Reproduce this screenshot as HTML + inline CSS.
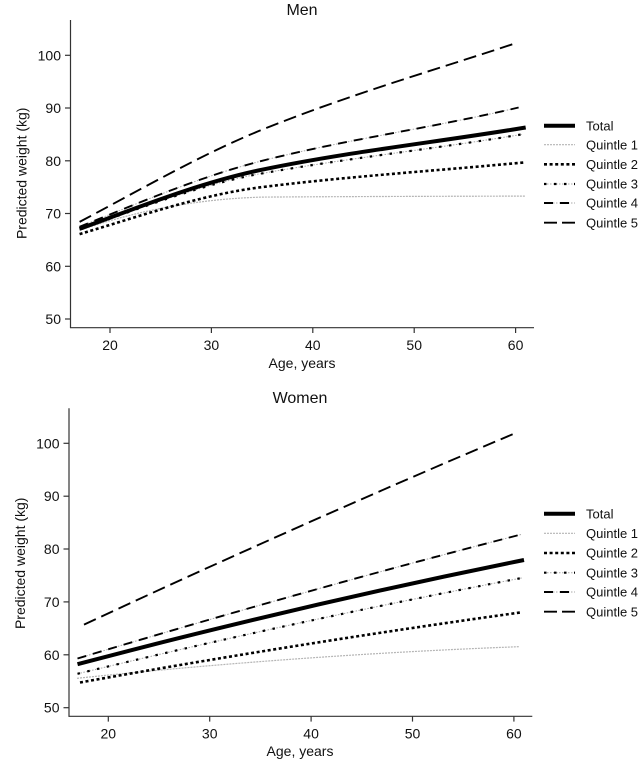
<!DOCTYPE html>
<html><head><meta charset="utf-8">
<style>
html,body{margin:0;padding:0;background:#fff;}
svg{display:block;}
text{font-family:"Liberation Sans",Arial,sans-serif;fill:#111;}
</style></head>
<body>
<svg width="642" height="761" viewBox="0 0 642 761" xmlns="http://www.w3.org/2000/svg">
<rect width="642" height="761" fill="#fff"/>

<!-- ===== MEN ===== -->
<text x="302" y="15" font-size="16" text-anchor="middle">Men</text>
<g stroke="#333" stroke-width="1.2" fill="none">
  <line x1="70.5" y1="20" x2="70.5" y2="328"/>
  <line x1="70" y1="327.7" x2="534" y2="327.7"/>
  <line x1="65" y1="55.3" x2="70.5" y2="55.3"/>
  <line x1="65" y1="108" x2="70.5" y2="108"/>
  <line x1="65" y1="160.8" x2="70.5" y2="160.8"/>
  <line x1="65" y1="213.5" x2="70.5" y2="213.5"/>
  <line x1="65" y1="266.3" x2="70.5" y2="266.3"/>
  <line x1="65" y1="319" x2="70.5" y2="319"/>
  <line x1="110" y1="327.7" x2="110" y2="333"/>
  <line x1="211.4" y1="327.7" x2="211.4" y2="333"/>
  <line x1="312.8" y1="327.7" x2="312.8" y2="333"/>
  <line x1="414.2" y1="327.7" x2="414.2" y2="333"/>
  <line x1="515.6" y1="327.7" x2="515.6" y2="333"/>
</g>
<g font-size="14" text-anchor="end">
  <text x="61" y="60.3">100</text>
  <text x="61" y="113">90</text>
  <text x="61" y="165.8">80</text>
  <text x="61" y="218.5">70</text>
  <text x="61" y="271.3">60</text>
  <text x="61" y="324">50</text>
</g>
<g font-size="14" text-anchor="middle">
  <text x="110" y="350">20</text>
  <text x="211.4" y="350">30</text>
  <text x="312.8" y="350">40</text>
  <text x="414.2" y="350">50</text>
  <text x="515.6" y="350">60</text>
  <text x="302" y="368">Age, years</text>
</g>
<text font-size="14" text-anchor="middle" transform="translate(26.5,173.3) rotate(-90)">Predicted weight (kg)</text>

<g fill="none" stroke-linejoin="round">
  <!-- Q1 -->
  <path d="M79.6,230.4 C140.4,209.2 201.3,198.9 262.1,197.1 C350,196.5 437.8,196.3 525.7,196.1"
    stroke="#b5b5b5" stroke-width="1.2" stroke-dasharray="2 1"/>
  <!-- Q2 -->
  <path d="M79.6,234.1 C140.4,216.1 201.3,194.6 262.1,187.1 C350,176.2 437.8,170.65 525.7,162.3"
    stroke="#000" stroke-width="2.6" stroke-dasharray="3 2.6"/>
  <!-- Q3 -->
  <path d="M79.6,229.3 C140.4,208.3 201.3,184.2 262.1,173.4 C348.6,158 435.2,148.8 521.7,134.4"
    stroke="#aaa" stroke-width="1" stroke-dasharray="1.5 1.5"/>
  <path d="M79.6,229.3 C140.4,208.3 201.3,184.2 262.1,173.4 C348.6,158 435.2,148.8 521.7,134.4"
    stroke="#000" stroke-width="2.2" stroke-dasharray="2.5 7.5"/>
  <!-- Q4 -->
  <path d="M79.6,226.7 C140.4,202.3 201.3,176.2 262.1,160.8 C347.6,139.1 433.1,127.7 518.6,107.5"
    stroke="#aaa" stroke-width="1" stroke-dasharray="1.5 1.5"/>
  <path d="M79.6,226.7 C140.4,202.3 201.3,176.2 262.1,160.8 C347.6,139.1 433.1,127.7 518.6,107.5"
    stroke="#000" stroke-width="1.9" stroke-dasharray="9 7"/>
  <!-- Q5 -->
  <path d="M79.6,221.9 C140.4,189.7 201.3,154.3 262.1,129.7 C346.6,95.5 431.1,71.2 515.6,43.2"
    stroke="#000" stroke-width="1.9" stroke-dasharray="13 6"/>
  <!-- Total -->
  <path d="M79.6,228.8 C140.4,206.6 201.3,182.3 262.1,169.7 C350,151.5 437.8,142.1 525.7,127.5"
    stroke="#000" stroke-width="4"/>
</g>

<!-- Men legend -->
<g fill="none">
  <line x1="544" y1="125.7" x2="575" y2="125.7" stroke="#000" stroke-width="4"/>
  <line x1="544" y1="144.7" x2="575" y2="144.7" stroke="#b5b5b5" stroke-width="1.2" stroke-dasharray="2 1"/>
  <line x1="544" y1="164.3" x2="575" y2="164.3" stroke="#000" stroke-width="2.6" stroke-dasharray="3 2.6"/>
  <line x1="544" y1="184" x2="575" y2="184" stroke="#aaa" stroke-width="1" stroke-dasharray="1.5 1.5"/>
  <line x1="544" y1="184" x2="575" y2="184" stroke="#000" stroke-width="2.2" stroke-dasharray="2.5 7.5"/>
  <line x1="544" y1="203" x2="575" y2="203" stroke="#aaa" stroke-width="1" stroke-dasharray="1.5 1.5"/>
  <line x1="544" y1="203" x2="575" y2="203" stroke="#000" stroke-width="1.9" stroke-dasharray="9 7"/>
  <line x1="544" y1="222.7" x2="575" y2="222.7" stroke="#000" stroke-width="1.9" stroke-dasharray="13 5"/>
</g>
<g font-size="13">
  <text x="586" y="130.4">Total</text>
  <text x="586" y="149.4">Quintle 1</text>
  <text x="586" y="169">Quintle 2</text>
  <text x="586" y="188.7">Quintle 3</text>
  <text x="586" y="207.7">Quintle 4</text>
  <text x="586" y="227.4">Quintle 5</text>
</g>

<!-- ===== WOMEN ===== -->
<text x="300" y="403" font-size="16" text-anchor="middle">Women</text>
<g stroke="#333" stroke-width="1.2" fill="none">
  <line x1="69" y1="408.3" x2="69" y2="716.8"/>
  <line x1="68.5" y1="716.3" x2="532.3" y2="716.3"/>
  <line x1="63.5" y1="443.3" x2="69" y2="443.3"/>
  <line x1="63.5" y1="496.2" x2="69" y2="496.2"/>
  <line x1="63.5" y1="549" x2="69" y2="549"/>
  <line x1="63.5" y1="601.9" x2="69" y2="601.9"/>
  <line x1="63.5" y1="654.8" x2="69" y2="654.8"/>
  <line x1="63.5" y1="707.7" x2="69" y2="707.7"/>
  <line x1="108.3" y1="716.3" x2="108.3" y2="721.6"/>
  <line x1="209.7" y1="716.3" x2="209.7" y2="721.6"/>
  <line x1="311.1" y1="716.3" x2="311.1" y2="721.6"/>
  <line x1="412.5" y1="716.3" x2="412.5" y2="721.6"/>
  <line x1="513.9" y1="716.3" x2="513.9" y2="721.6"/>
</g>
<g font-size="14" text-anchor="end">
  <text x="59.5" y="448.3">100</text>
  <text x="59.5" y="501.2">90</text>
  <text x="59.5" y="554">80</text>
  <text x="59.5" y="606.9">70</text>
  <text x="59.5" y="659.8">60</text>
  <text x="59.5" y="712.7">50</text>
</g>
<g font-size="14" text-anchor="middle">
  <text x="108.3" y="738.5">20</text>
  <text x="209.7" y="738.5">30</text>
  <text x="311.1" y="738.5">40</text>
  <text x="412.5" y="738.5">50</text>
  <text x="513.9" y="738.5">60</text>
  <text x="300" y="756">Age, years</text>
</g>
<text font-size="14" text-anchor="middle" transform="translate(25,563.3) rotate(-90)">Predicted weight (kg)</text>

<g fill="none" stroke-linejoin="round">
  <!-- Q1 -->
  <path d="M77,678.3 Q299,655 519,646.7" stroke="#b5b5b5" stroke-width="1.2" stroke-dasharray="2 1"/>
  <!-- Q2 -->
  <path d="M80,682.5 Q300,643 521.7,612.3" stroke="#000" stroke-width="2.6" stroke-dasharray="3 2.6"/>
  <!-- Q3 -->
  <path d="M77.5,673.8 Q300,620 521.7,578" stroke="#aaa" stroke-width="1" stroke-dasharray="1.5 1.5"/>
  <path d="M77.5,673.8 Q300,620 521.7,578" stroke="#000" stroke-width="2.2" stroke-dasharray="2.5 7.5"/>
  <!-- Q4 -->
  <path d="M77.5,658.5 Q300,591.5 521.7,534.3" stroke="#aaa" stroke-width="1" stroke-dasharray="1.5 1.5"/>
  <path d="M77.5,658.5 Q300,591.5 521.7,534.3" stroke="#000" stroke-width="1.9" stroke-dasharray="9 7"/>
  <!-- Q5 -->
  <path d="M84,624.6 Q300,524 517.3,432.3" stroke="#000" stroke-width="1.9" stroke-dasharray="13 6"/>
  <!-- Total -->
  <path d="M77.5,664.2 Q301,605 524,560" stroke="#000" stroke-width="4"/>
</g>

<!-- Women legend -->
<g fill="none">
  <line x1="544" y1="513.7" x2="575" y2="513.7" stroke="#000" stroke-width="4"/>
  <line x1="544" y1="533.3" x2="575" y2="533.3" stroke="#b5b5b5" stroke-width="1.2" stroke-dasharray="2 1"/>
  <line x1="544" y1="553" x2="575" y2="553" stroke="#000" stroke-width="2.6" stroke-dasharray="3 2.6"/>
  <line x1="544" y1="572.7" x2="575" y2="572.7" stroke="#aaa" stroke-width="1" stroke-dasharray="1.5 1.5"/>
  <line x1="544" y1="572.7" x2="575" y2="572.7" stroke="#000" stroke-width="2.2" stroke-dasharray="2.5 7.5"/>
  <line x1="544" y1="592" x2="575" y2="592" stroke="#aaa" stroke-width="1" stroke-dasharray="1.5 1.5"/>
  <line x1="544" y1="592" x2="575" y2="592" stroke="#000" stroke-width="1.9" stroke-dasharray="9 7"/>
  <line x1="544" y1="611.7" x2="575" y2="611.7" stroke="#000" stroke-width="1.9" stroke-dasharray="13 5"/>
</g>
<g font-size="13">
  <text x="586" y="518.4">Total</text>
  <text x="586" y="538">Quintle 1</text>
  <text x="586" y="557.7">Quintle 2</text>
  <text x="586" y="577.4">Quintle 3</text>
  <text x="586" y="596.7">Quintle 4</text>
  <text x="586" y="616.4">Quintle 5</text>
</g>
</svg>
</body></html>
